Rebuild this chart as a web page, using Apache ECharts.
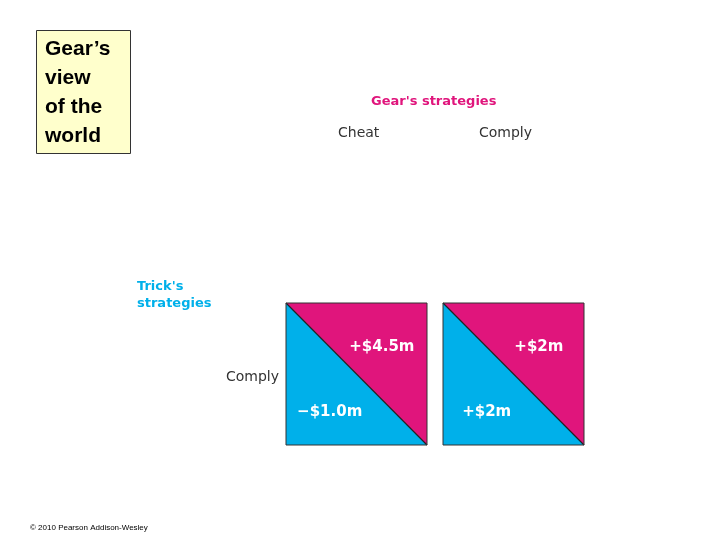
<!DOCTYPE html>
<html><head><meta charset="utf-8">
<script src="https://cdn.jsdelivr.net/npm/echarts@6/dist/echarts.min.js"></script>
<style>html,body{margin:0;background:#fff}#c{width:720px;height:540px}</style>
</head><body><div id="c"></div>
<script>
// payoff matrix: Gear's view of the world
const gearStrategies = ['Cheat', 'Comply'];
const trickStrategies = ['Comply'];
const gearPayoffs = ['+$4.5m', '+$2m'];   // upper right triangle
const trickPayoffs = ['\u2212$1.0m', '+$2m']; // lower left triangle

const PINK = '#e0157c', BLUE = '#00b0ea';
const chart = echarts.init(document.getElementById('c'));

const cells = gearStrategies.map((g, i) => [i, 0, gearPayoffs[i], trickPayoffs[i]]);

function renderItem(params, api) {
  const i = api.value(0);
  const a = api.coord([i, 1]);
  const b = api.coord([i + 1, 0]);
  let x0 = a[0], x1 = b[0];
  if (i === 0) x1 -= 8; else x0 += 8;
  const y0 = a[1], y1 = b[1];
  const w = x1 - x0, h = y1 - y0;
  return {
    type: 'group',
    children: [
      { type: 'polygon', shape: { points: [[x0, y0], [x0, y1], [x1, y1]] }, style: { fill: BLUE } },
      { type: 'polygon', shape: { points: [[x0, y0], [x1, y0], [x1, y1]] }, style: { fill: PINK } },
      { type: 'line', shape: { x1: x0, y1: y0, x2: x1, y2: y1 }, style: { stroke: '#222', lineWidth: 1.2 } },
      { type: 'rect', shape: { x: x0, y: y0, width: w, height: h }, style: { fill: 'none', stroke: '#333', lineWidth: 1 } },
      { type: 'text', x: x0 + w * 0.68, y: y0 + h * 0.31, style: { text: api.value(2), fill: '#fff', font: 'bold 15px "DejaVu Sans", sans-serif', align: 'center', verticalAlign: 'middle' } },
      { type: 'text', x: x0 + w * 0.31, y: y0 + h * 0.77, style: { text: api.value(3), fill: '#fff', font: 'bold 15px "DejaVu Sans", sans-serif', align: 'center', verticalAlign: 'middle' } }
    ]
  };
}

const lab = (t, x, y, extra) => ({ type: 'text', left: x, top: y, style: Object.assign({ text: t, fill: '#333', font: '14px "DejaVu Sans", sans-serif' }, extra || {}) });

chart.setOption({
  animation: false,
  grid: { left: 286, right: 136, top: 303, bottom: 95 },
  xAxis: { type: 'value', min: 0, max: 2, show: false },
  yAxis: { type: 'value', min: 0, max: 1, show: false },
  series: [{ type: 'custom', renderItem: renderItem, data: cells }],
  graphic: [
    { type: 'rect', left: 36, top: 30, shape: { width: 94, height: 123 }, style: { fill: '#ffffcc', stroke: '#333', lineWidth: 1 } },
    { type: 'text', left: 45, top: 35, style: { text: 'Gear\u2019s\nview\nof the\nworld', fill: '#000', font: 'bold 21px "Liberation Sans", Arial, sans-serif', lineHeight: 29 } },
    lab("Gear's strategies", 371, 95, { fill: PINK, font: 'bold 13px "DejaVu Sans", sans-serif' }),
    lab(gearStrategies[0], 338, 126),
    lab(gearStrategies[1], 479, 126),
    lab("Trick's\nstrategies", 137, 278, { fill: BLUE, font: 'bold 13px "DejaVu Sans", sans-serif', lineHeight: 17 }),
    lab(trickStrategies[0], 226, 370),
    lab('\u00a9 2010 Pearson Addison-Wesley', 30, 524, { fill: '#000', font: '8px "Liberation Sans", Arial, sans-serif' })
  ]
});
</script></body></html>
